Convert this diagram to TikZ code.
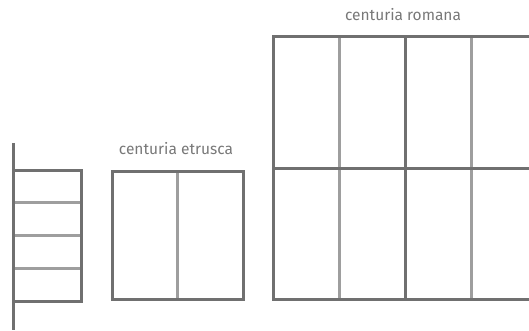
\documentclass[tikz,border=0pt]{standalone}
\usepackage{fontspec}
\setmainfont{Fira Sans}
\usepackage{tikz}
\definecolor{lineDark}{RGB}{112,112,112}
\definecolor{lineLight}{RGB}{158,158,158}
\definecolor{labelGray}{RGB}{120,120,120}

\begin{document}
\begin{tikzpicture}[x=1pt,y=-1pt,
  dark/.style={draw=lineDark,line width=3pt},
  light/.style={draw=lineLight,line width=3pt},
  every node/.style={font=\fontsize{15.5}{18}\selectfont,text=labelGray,anchor=base,inner sep=0pt}]
\useasboundingbox (0,0) rectangle (529,331);
% scala (pertica)
\foreach \y in {202,235,268} \draw[light] (13,\y) -- (81,\y);
\draw[dark] (13,170) -- (81,170) -- (81,301) -- (13,301);
\draw[dark] (13,143) -- (13,330);
% centuria etrusca
\node (etrusca) at (176,154) {centuria etrusca};
\draw[light] (177,171) -- (177,299);
\draw[dark] (112,171) rectangle (243,299);
% centuria romana
\node (romana) at (403,21) {centuria romana};
\foreach \x in {339,471} \draw[light] (\x,37) -- (\x,299);
\draw[dark] (405,37) -- (405,299);
\draw[dark] (273,168) -- (540,168);
\draw[dark] (540,37) -- (273,37) -- (273,299) -- (540,299);
\end{tikzpicture}
\end{document}
